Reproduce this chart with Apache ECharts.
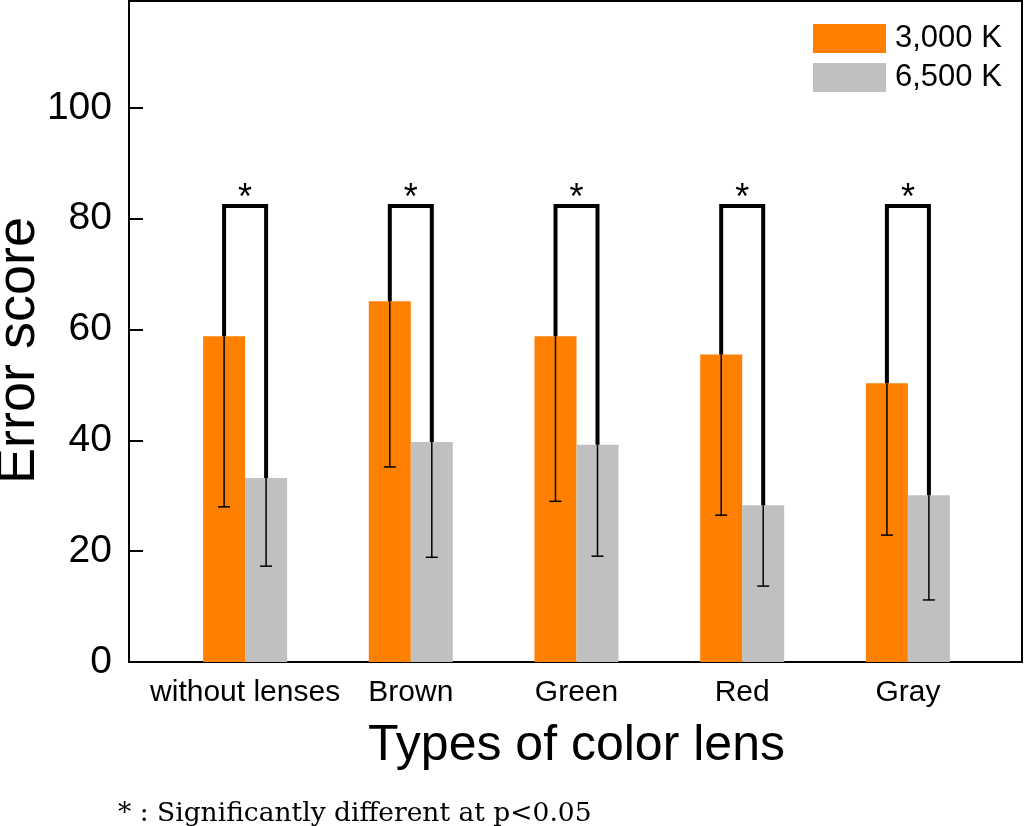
<!DOCTYPE html>
<html>
<head>
<meta charset="utf-8">
<script src="https://cdn.jsdelivr.net/npm/echarts@6/dist/echarts.min.js"></script>
<style>
html,body{margin:0;padding:0;background:#fff;}
#chart{width:1024px;height:826px;}
</style>
</head>
<body>
<div id="chart"></div>
<script>
// ---- data ----
var categories = ['without lenses', 'Brown', 'Green', 'Red', 'Gray'];
var seriesNames = ['3,000 K', '6,500 K'];
var mean3000 = [58.8, 65.1, 58.8, 55.5, 50.3];
var sd3000   = [30.8, 29.9, 29.8, 29.0, 27.4];
var mean6500 = [33.2, 39.7, 39.2, 28.3, 30.1];
var sd6500   = [15.9, 20.8, 20.1, 14.6, 18.9];
var significant = [true, true, true, true, true];
var bracketLevel = 82.3;
var yTicks = [0, 20, 40, 60, 80, 100];
var footnote = '* : Significantly different at p<0.05';

// ---- style ----
var ORANGE = '#FF8000', GRAY = '#C0C0C0';
var BAR_W = 42;
var Y_MIN = 0, Y_MAX = 119.3;
var SANS = 'Liberation Sans, Arial, sans-serif';

var errData = categories.map(function (c, i) {
  return [i, mean3000[i], mean3000[i] - sd3000[i], mean6500[i], mean6500[i] - sd6500[i], significant[i] ? 1 : 0];
});

function renderErr(params, api) {
  var i = api.value(0);
  var m1 = api.value(1), l1 = api.value(2), m2 = api.value(3), l2 = api.value(4), sig = api.value(5);
  var pTop1 = api.coord([i, m1]);
  var cx = pTop1[0];
  var x1 = cx - BAR_W / 2, x2 = cx + BAR_W / 2;
  var y1 = pTop1[1];
  var yl1 = api.coord([i, l1])[1];
  var y2 = api.coord([i, m2])[1];
  var yl2 = api.coord([i, l2])[1];
  var yb = api.coord([i, bracketLevel])[1];
  var thin = {stroke: '#000', lineWidth: 1.5};
  var thick = {stroke: '#000', lineWidth: 4, lineJoin: 'miter'};
  var cap = 6;
  var children = [
    {type: 'line', shape: {x1: x1, y1: y1, x2: x1, y2: yl1}, style: thin},
    {type: 'line', shape: {x1: x1 - cap, y1: yl1, x2: x1 + cap, y2: yl1}, style: thin},
    {type: 'line', shape: {x1: x2, y1: y2, x2: x2, y2: yl2}, style: thin},
    {type: 'line', shape: {x1: x2 - cap, y1: yl2, x2: x2 + cap, y2: yl2}, style: thin}
  ];
  if (sig) {
    children.push({type: 'polyline', shape: {points: [[x1, y1], [x1, yb], [x2, yb], [x2, y2]]}, style: Object.assign({fill: null}, thick)});
    children.push({type: 'text', style: {text: '*', x: cx, y: yb + 11, align: 'center', verticalAlign: 'bottom',
      fontSize: 36, fontFamily: SANS, fill: '#000'}});
  }
  return {type: 'group', children: children};
}

var chart = echarts.init(document.getElementById('chart'), null, {renderer: 'canvas'});
var option = {
  backgroundColor: '#fff',
  animation: false,
  textStyle: {fontFamily: SANS},
  legend: {
    orient: 'vertical', left: 813, top: 23, padding: 0,
    itemWidth: 73, itemHeight: 29, itemGap: 8,
    icon: 'rect',
    textStyle: {fontSize: 31, color: '#000', fontFamily: SANS, padding: [0, 0, 0, 4]},
    data: seriesNames
  },
  grid: [
    {left: 129, right: 2, top: 1, bottom: 164, show: true, borderColor: '#000', borderWidth: 2,
      backgroundColor: 'transparent', containLabel: false, outerBoundsMode: 'none'},
    {left: 162.25, right: 33.25, top: 1, bottom: 164, containLabel: false, outerBoundsMode: 'none'}
  ],
  xAxis: [
    {type: 'value', gridIndex: 0, min: 0, max: 1, show: false},
    {type: 'category', gridIndex: 1, data: categories,
      axisLine: {show: false}, axisTick: {show: false},
      axisLabel: {fontSize: 30, color: '#000', margin: 16, interval: 0},
      name: 'Types of color lens', nameLocation: 'middle', nameGap: 59, nameMoveOverlap: false,
      nameTextStyle: {fontSize: 50, color: '#000', verticalAlign: 'top'}
    }
  ],
  yAxis: [
    {type: 'value', gridIndex: 0, min: Y_MIN, max: Y_MAX, interval: 20,
      axisLine: {show: true, lineStyle: {color: '#000', width: 2}},
      axisTick: {show: true, inside: true, length: 14, customValues: yTicks, lineStyle: {color: '#000', width: 2}},
      axisLabel: {fontSize: 39, color: '#000', margin: 17, customValues: yTicks},
      splitLine: {show: false},
      name: 'Error score', nameLocation: 'middle', nameGap: 83, nameMoveOverlap: false,
      nameTextStyle: {fontSize: 54, color: '#000', padding: [0, 38, 0, 0]}
    },
    {type: 'value', gridIndex: 1, min: Y_MIN, max: Y_MAX, show: false, splitLine: {show: false}}
  ],
  series: [
    {name: seriesNames[0], type: 'bar', xAxisIndex: 1, yAxisIndex: 1, data: mean3000,
      barWidth: BAR_W, barGap: '0%', itemStyle: {color: ORANGE}},
    {name: seriesNames[1], type: 'bar', xAxisIndex: 1, yAxisIndex: 1, data: mean6500,
      barWidth: BAR_W, barGap: '0%', itemStyle: {color: GRAY}},
    {type: 'custom', xAxisIndex: 1, yAxisIndex: 1, data: errData, renderItem: renderErr, z: 10,
      encode: {x: 0, y: [1, 2, 3, 4]}}
  ],
  graphic: [
    {type: 'text', left: 118, top: 801, style: {text: footnote, fontSize: 26.5,
      fontFamily: 'DejaVu Serif, Liberation Serif, serif', fill: '#000'}}
  ]
};
chart.setOption(option);
</script>
</body>
</html>
